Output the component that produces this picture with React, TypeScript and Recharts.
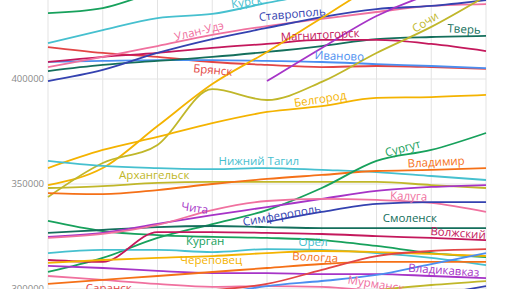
import React from "react";
import { LineChart, Line, XAxis, YAxis, CartesianGrid, ReferenceDot } from "recharts";

// years on the x axis (only the plot window is visible, axis itself is cut off)
const years = [2010, 2011, 2012, 2013, 2014, 2015, 2016, 2017, 2018];
const yTicks = [300000, 350000, 400000];

// population values
const greenTop = [431400, 433800, 441500, 446000, 449500, 452000, 455000, 457000, 459000];
const kursk = [417100, 423300, 429000, 431000, 436200, 441000, 444000, 447000, 449000];
const bryansk = [415200, 412400, 410500, 408100, 406700, 405700, 406200, 405700, 404800];
const ulanUde = [405700, 410500, 415700, 421000, 425200, 428600, 431900, 434800, 435700];
const stavropol = [399000, 404300, 412400, 419000, 424300, 429500, 433300, 434800, 437600];
const magnitogorsk = [408100, 410500, 412400, 414800, 416700, 418600, 418600, 416700, 413300];
const tver = [403800, 406700, 408600, 410500, 412900, 415700, 419000, 420000, 420500];
const ivanovo = [408100, 408600, 409000, 409000, 408600, 408100, 407100, 406200, 405200];
const sevastopol = [null, null, null, null, 399000, 414800, 430000, 440500, 447100];
const orangeSteep = [349500, 357600, 377600, 397600, 412900, 429000, 444800, 454300, 461400];
const sochi = [343800, 360000, 368600, 395200, 390000, 398600, 412400, 424800, 439500];
const belgorod = [357600, 366200, 372400, 379000, 384300, 387100, 391000, 391400, 392400];
const nTagil = [361000, 358600, 357600, 357100, 357600, 356700, 355700, 353800, 351900];
const arkhangelsk = [348100, 349000, 350500, 351000, 351000, 351000, 351000, 349500, 348100];
const vladimir = [345700, 345200, 347100, 350000, 352400, 354300, 356200, 356700, 357600];
const surgut = [308100, 314800, 324300, 330900, 337600, 348100, 361000, 366200, 374300];
const kurgan = [332400, 327600, 325700, 324800, 324300, 323300, 320500, 317100, 315200];
const smolensk = [326700, 328100, 329500, 330000, 329500, 329000, 329000, 329000, 329000];
const chita = [324800, 326700, 331000, 335200, 339000, 342900, 346700, 348600, 349500];
const kaluga = [324300, 326200, 330500, 337600, 341900, 342900, 342400, 341000, 336700];
const simferopol = [null, null, null, null, 331900, 336700, 340500, 341400, 341400];
const orel = [317100, 318600, 318600, 317600, 319000, 318600, 317100, 314800, 311400];
const volzhsky = [313800, 312900, 327100, 327100, 326700, 326200, 325200, 324300, 323300];
const cherepovets = [312400, 313800, 314800, 315700, 317100, 318100, 317600, 316700, 315700];
const vladikavkaz = [311000, 310000, 308600, 307600, 307600, 307100, 307100, 306200, 305200];
const murmansk = [306200, 304300, 302400, 301000, 301400, 301000, 299000, 296700, 294800];
const vologda = [302400, 304300, 306200, 308100, 310000, 311900, 312900, 312900, 312900];
const saransk = [296200, 297100, 298100, 299500, 302400, 309100, 315700, 318100, 319000];
const blueLow = [282000, 287000, 292000, 297000, 301400, 303800, 306700, 311900, 317100];
const oliveLow = [285000, 287000, 289000, 291000, 294000, 297000, 299500, 301900, 303800];
const navyLow = [280000, 283000, 285000, 287000, 289000, 291500, 294500, 297100, 301400];

const C = {
  green: "#17a15c",
  teal: "#146f5c",
  cyan: "#46c0cf",
  pink: "#f0719f",
  navy: "#3442b0",
  crimson: "#c4185c",
  blue: "#4b8ef0",
  red: "#e24545",
  amber: "#f4b300",
  orange: "#f57017",
  olive: "#c0b72a",
  purple: "#a634c7",
};

const series = [
  { name: "greenTop", color: C.green, values: greenTop },
  { name: "Курск", color: C.cyan, values: kursk },
  { name: "Брянск", color: C.red, values: bryansk },
  { name: "Иваново", color: C.blue, values: ivanovo },
  { name: "Тверь", color: C.teal, values: tver },
  { name: "Магнитогорск", color: C.crimson, values: magnitogorsk },
  { name: "Улан-Удэ", color: C.pink, values: ulanUde },
  { name: "Ставрополь", color: C.navy, values: stavropol },
  { name: "Севастополь", color: C.purple, values: sevastopol },
  { name: "orangeSteep", color: C.amber, values: orangeSteep },
  { name: "Сочи", color: C.olive, values: sochi },
  { name: "Белгород", color: C.amber, values: belgorod },
  { name: "Нижний Тагил", color: C.cyan, values: nTagil },
  { name: "Архангельск", color: C.olive, values: arkhangelsk },
  { name: "Владимир", color: C.orange, values: vladimir },
  { name: "Сургут", color: C.green, values: surgut },
  { name: "Курган", color: C.green, values: kurgan },
  { name: "Смоленск", color: C.teal, values: smolensk },
  { name: "Чита", color: C.purple, values: chita },
  { name: "Калуга", color: C.pink, values: kaluga },
  { name: "Симферополь", color: C.navy, values: simferopol },
  { name: "Орёл", color: C.cyan, values: orel },
  { name: "Волжский", color: C.crimson, values: volzhsky },
  { name: "Череповец", color: C.amber, values: cherepovets },
  { name: "Владикавказ", color: C.purple, values: vladikavkaz },
  { name: "Мурманск", color: C.pink, values: murmansk },
  { name: "Вологда", color: C.orange, values: vologda },
  { name: "Саранск", color: C.red, values: saransk },
  { name: "blueLow", color: C.blue, values: blueLow },
  { name: "oliveLow", color: C.olive, values: oliveLow },
  { name: "navyLow", color: C.navy, values: navyLow },
];

// where each line's name sits (t = year index, v = value), with its tilt
const labelSpots = [
  { name: "Курск", color: C.cyan, t: 3.63, v: 436700, angle: -8 },
  { name: "Улан-Удэ", color: C.pink, t: 2.76, v: 422900, angle: -14 },
  { name: "Ставрополь", color: C.navy, t: 4.46, v: 431000, angle: -5 },
  { name: "Магнитогорск", color: C.crimson, t: 4.97, v: 421000, angle: -3 },
  { name: "Иваново", color: C.blue, t: 5.32, v: 411000, angle: 2 },
  { name: "Брянск", color: C.red, t: 3.01, v: 404300, angle: 5 },
  { name: "Тверь", color: C.teal, t: 7.6, v: 423800, angle: 3 },
  { name: "Сочи", color: C.olive, t: 6.89, v: 427100, angle: -32 },
  { name: "Белгород", color: C.amber, t: 4.97, v: 390500, angle: -9 },
  { name: "Нижний Тагил", color: C.cyan, t: 3.85, v: 361000, angle: 0 },
  { name: "Архангельск", color: C.olive, t: 1.94, v: 354300, angle: 0 },
  { name: "Сургут", color: C.green, t: 6.48, v: 367100, angle: -15 },
  { name: "Владимир", color: C.orange, t: 7.09, v: 360500, angle: -3 },
  { name: "Калуга", color: C.pink, t: 6.59, v: 344300, angle: 2 },
  { name: "Чита", color: C.purple, t: 2.68, v: 338600, angle: 8 },
  { name: "Симферополь", color: C.navy, t: 4.27, v: 335200, angle: -10 },
  { name: "Смоленск", color: C.teal, t: 6.61, v: 333800, angle: 0 },
  { name: "Волжский", color: C.crimson, t: 7.49, v: 326700, angle: 4 },
  { name: "Курган", color: C.green, t: 2.87, v: 322900, angle: 0 },
  { name: "Орёл", color: C.cyan, t: 4.84, v: 322400, angle: 0 },
  { name: "Череповец", color: C.amber, t: 2.98, v: 313800, angle: 0 },
  { name: "Вологда", color: C.orange, t: 4.88, v: 315200, angle: 3 },
  { name: "Владикавказ", color: C.purple, t: 7.23, v: 309000, angle: 4 },
  { name: "Саранск", color: C.red, t: 1.11, v: 300500, angle: 0 },
  { name: "Мурманск", color: C.pink, t: 5.99, v: 302400, angle: 9 },
];

const rows = years.map((year, i) => {
  const row: Record<string, number | null> = { t: i, year };
  series.forEach((s) => {
    row[s.name] = s.values[i];
  });
  return row;
});

const FONT = "'Open Sans', sans-serif";

export default function App() {
  return (
    <div
      style={{
        position: "fixed",
        left: 0,
        top: 0,
        width: 516,
        height: 289,
        overflow: "hidden",
        background: "#fff",
      }}
    >
      <div style={{ position: "absolute", left: 0, top: -26 }}>
        <LineChart
          width={516}
          height={336}
          data={rows}
          margin={{ top: 0, right: 30, bottom: 0, left: 0 }}
        >
          <CartesianGrid stroke="#e3e3e3" />
          <XAxis
            type="number"
            dataKey="t"
            domain={[0, 8]}
            ticks={[0, 1, 2, 3, 4, 5, 6, 7, 8]}
            hide
          />
          <YAxis
            width={48}
            domain={[290000, 450000]}
            ticks={yTicks}
            allowDataOverflow
            axisLine={false}
            tickLine={false}
            tickSize={2}
            tickMargin={2}
            tick={{ fontSize: 9.5, fill: "#8a8a8a", fontFamily: FONT }}
          />
          {series.map((s) => (
            <Line
              key={s.name}
              dataKey={s.name}
              type="monotone"
              stroke={s.color}
              strokeWidth={1.8}
              dot={false}
              activeDot={false}
              isAnimationActive={false}
            />
          ))}
          {labelSpots.map((l) => (
            <ReferenceDot
              key={"lbl-" + l.name}
              x={l.t}
              y={l.v}
              r={0}
              fill="none"
              stroke="none"
              label={{
                value: l.name,
                position: "center",
                fill: l.color,
                fontSize: 11.5,
                fontFamily: FONT,
                angle: l.angle,
              }}
            />
          ))}
        </LineChart>
      </div>
    </div>
  );
}
